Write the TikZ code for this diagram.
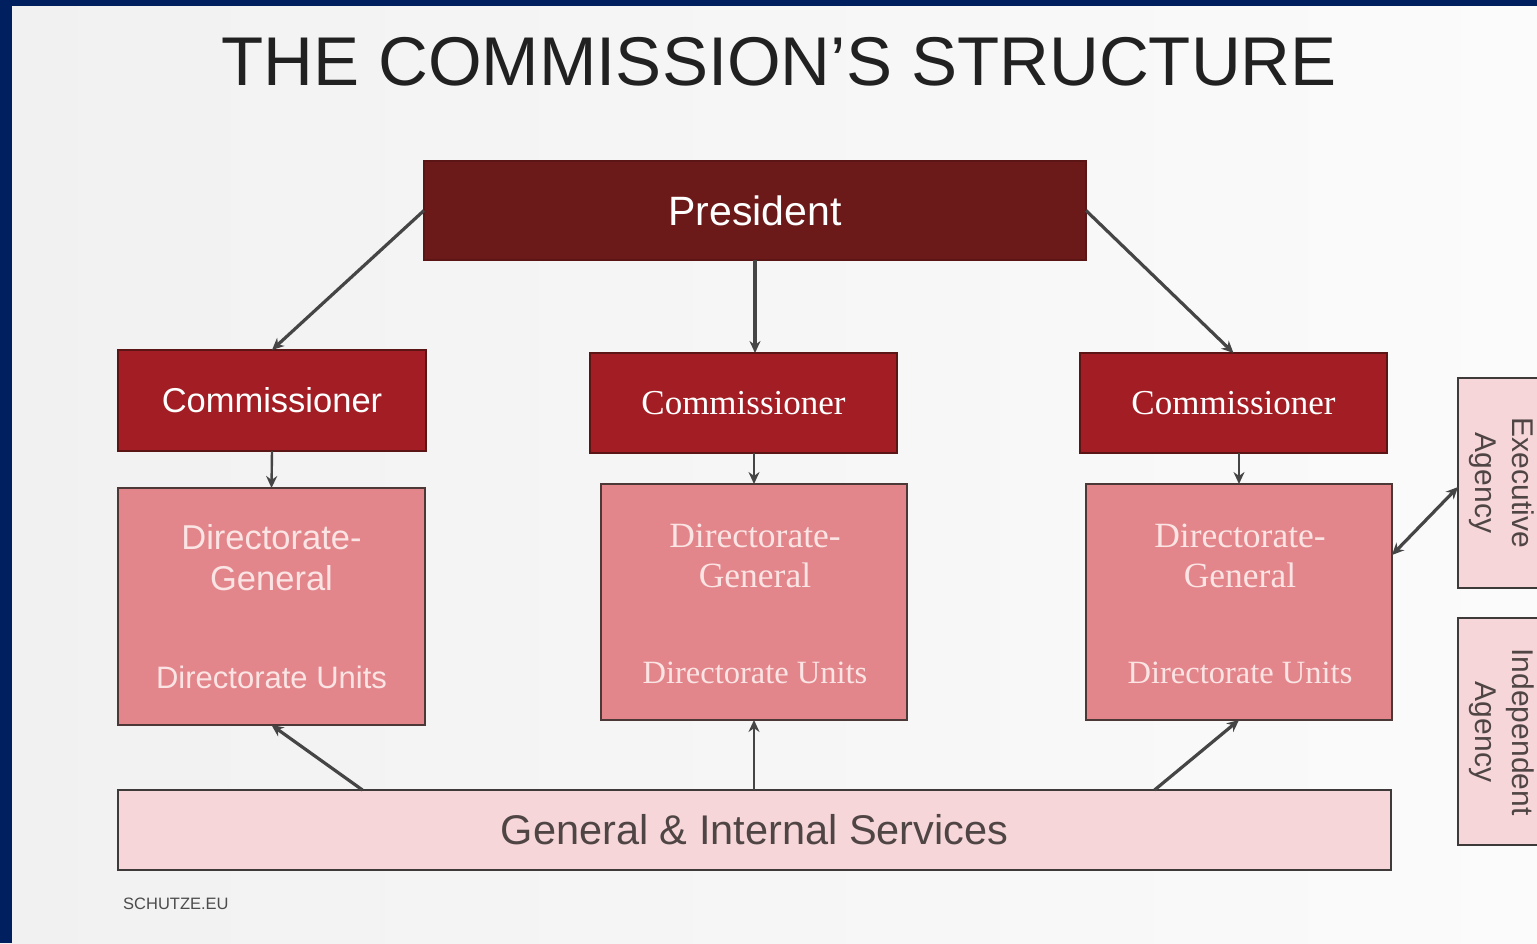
\documentclass[tikz,border=0pt]{standalone}
\usepackage{fontspec}
\setmainfont{Liberation Serif}
\newfontfamily\sansf{Liberation Sans}
\usetikzlibrary{arrows.meta}
\definecolor{navy}{HTML}{001F5E}
\definecolor{bgl}{HTML}{F1F1F1}
\definecolor{bgr}{HTML}{FBFBFB}
\definecolor{presc}{HTML}{6C1919}
\definecolor{commc}{HTML}{A31D24}
\definecolor{commedge}{HTML}{5C1515}
\definecolor{dgc}{HTML}{E3868B}
\definecolor{dgedge}{HTML}{4D3838}
\definecolor{gisc}{HTML}{F6D6D8}
\definecolor{gisedge}{HTML}{3F3A3A}
\definecolor{arrc}{HTML}{454545}
\definecolor{dgtext}{HTML}{FBE4E4}
\definecolor{gistext}{HTML}{504545}
\tikzset{
  box/.style={rectangle, inner sep=0pt, outer sep=0pt},
  presbox/.style={box, fill=presc, draw=commedge, line width=1.2pt, text=white},
  commbox/.style={box, fill=commc, draw=commedge, line width=1.2pt, text=white},
  dgbox/.style={box, fill=dgc, draw=dgedge, line width=2.8pt},
  lightbox/.style={box, fill=gisc, draw=gisedge, line width=2.8pt},
  dgtxt/.style={inner sep=0pt, anchor=base, text=dgtext},
  agtxt/.style={inner sep=0pt, rotate=-90, align=center, text=gistext,
    font=\sansf\fontsize{30}{37}\selectfont},
  arr/.style={draw=arrc, line width=3.2pt, -{Stealth[length=12pt,width=11pt]}},
  darr/.style={draw=arrc, line width=3.2pt, {Stealth[length=12pt,width=11pt]}-{Stealth[length=12pt,width=11pt]}},
}
\begin{document}
\begin{tikzpicture}[x=1pt,y=-1pt]
\clip (0,0) rectangle (1537,943);
\shade[left color=bgl, right color=bgr] (0,0) rectangle (1537,943);
\fill[navy] (0,0) rectangle (12,943);
\fill[navy] (0,0) rectangle (1537,6);

\node[inner sep=0pt, anchor=base, text=black!87] (title) at (779,85)
  {\sansf\fontsize{69}{80}\selectfont THE COMMISSION’S STRUCTURE};

\node[presbox, minimum width=662pt, minimum height=99pt] (pres) at (755,210.5)
  {\sansf\fontsize{41}{48}\selectfont President};

\node[commbox, minimum width=308pt, minimum height=101pt] (cl) at (272,400.5)
  {\sansf\fontsize{34.5}{40}\selectfont Commissioner};
\node[commbox, minimum width=307pt, minimum height=100pt] (cm) at (743.5,403)
  {\fontsize{35}{40}\selectfont Commissioner};
\node[commbox, minimum width=307pt, minimum height=100pt] (cr) at (1233.5,403)
  {\fontsize{35}{40}\selectfont Commissioner};

\node[dgbox, minimum width=307pt, minimum height=237pt] (dgl) at (271.5,606.5) {};
\node[dgbox, line width=2pt, minimum width=306pt, minimum height=236pt] (dgm) at (754,602) {};
\node[dgbox, line width=2pt, minimum width=306pt, minimum height=236pt] (dgr) at (1239,602) {};

\node[dgtxt] (dgl1) at (271.5,549) {\sansf\fontsize{34.5}{40}\selectfont Directorate-};
\node[dgtxt] (dgl2) at (271.5,590) {\sansf\fontsize{34.5}{40}\selectfont General};
\node[dgtxt] (dgl3) at (271.5,688) {\sansf\fontsize{31}{36}\selectfont Directorate Units};

\node[dgtxt] (dgm1) at (755,547) {\fontsize{35.5}{40}\selectfont Directorate-};
\node[dgtxt] (dgm2) at (755,587) {\fontsize{35.5}{40}\selectfont General};
\node[dgtxt] (dgm3) at (755,683) {\fontsize{32.5}{38}\selectfont Directorate Units};

\node[dgtxt] (dgr1) at (1240,547) {\fontsize{35.5}{40}\selectfont Directorate-};
\node[dgtxt] (dgr2) at (1240,587) {\fontsize{35.5}{40}\selectfont General};
\node[dgtxt] (dgr3) at (1240,683) {\fontsize{32.5}{38}\selectfont Directorate Units};

\node[lightbox, minimum width=1273pt, minimum height=80pt, text=gistext] (gis) at (754.5,830)
  {\sansf\fontsize{41.5}{48}\selectfont General \& Internal Services};

\node[lightbox, minimum width=102pt, minimum height=210pt] (ea) at (1509,483) {};
\node[lightbox, minimum width=102pt, minimum height=227pt] (ia) at (1509,731.5) {};
\node[agtxt] (eat) at (1502,483) {Executive\\Agency};
\node[agtxt] (iat) at (1502,732) {Independent\\Agency};

\node[inner sep=0pt, anchor=base west, text=black!70] (src) at (123,909)
  {\sansf\fontsize{16.5}{20}\selectfont SCHUTZE.EU};

% connectors
\draw[arr] (pres.west) -- (cl.north);
\draw[arr] (pres.south) -- (cm.north -| pres.south);
\draw[arr] (pres.east) -- (cr.north);
\draw[arr, line width=2.4pt] (cl.south) -- (dgl.north);
\draw[arr, line width=2pt] (cm.south -| dgm.north) -- (dgm.north);
\draw[arr, line width=2pt] (cr.south -| dgr.north) -- (dgr.north);
\draw[arr] ([xshift=-392pt]gis.north) -- (dgl.south);
\draw[arr, line width=2.4pt] (gis.north -| dgm.south) -- (dgm.south);
\draw[arr] ([xshift=400pt]gis.north) -- (dgr.south);
\draw[darr] ([yshift=47pt]dgr.east) -- ([yshift=-4pt]ea.west);
\end{tikzpicture}
\end{document}
